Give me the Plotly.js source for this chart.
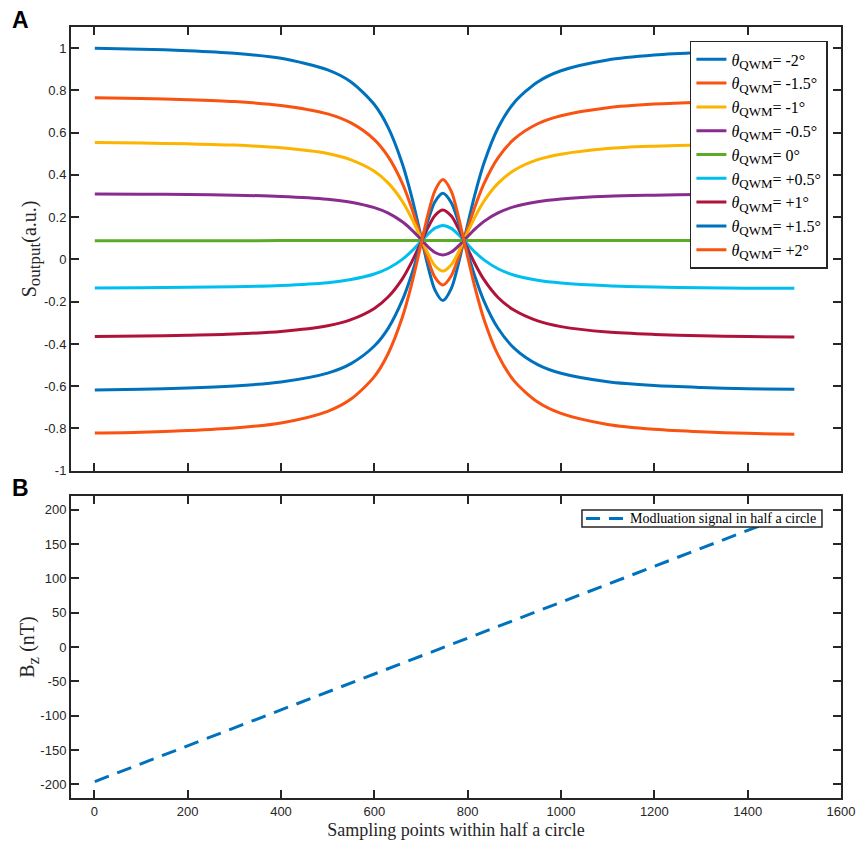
<!DOCTYPE html>
<html>
<head>
<meta charset="utf-8">
<script src="https://cdn.plot.ly/plotly-3.0.1.min.js"></script>
<style>html,body{margin:0;padding:0;background:#fff;}#chart{width:857px;height:846px;}</style>
</head>
<body>
<div id="chart"></div>
<script>
// ---- Data ----
var samplePoints = [1,100,200,300,400,500,550,600,630,660,680,700,715,730,747,765,780,795,815,835,865,900,950,1000,1100,1200,1300,1400,1500];

var sM20 = [1.000,0.995,0.988,0.976,0.952,0.897,0.840,0.733,0.623,0.453,0.297,0.109,-0.033,-0.145,-0.195,-0.137,-0.022,0.119,0.303,0.456,0.622,0.743,0.840,0.893,0.944,0.967,0.979,0.986,0.990];
var sM15 = [0.765,0.762,0.756,0.747,0.729,0.689,0.646,0.567,0.485,0.360,0.243,0.104,-0.001,-0.085,-0.121,-0.077,0.007,0.111,0.246,0.359,0.481,0.570,0.642,0.680,0.718,0.735,0.744,0.749,0.752];
var sM10 = [0.553,0.551,0.547,0.541,0.528,0.501,0.471,0.417,0.361,0.275,0.195,0.100,0.028,-0.030,-0.055,-0.025,0.033,0.105,0.198,0.276,0.360,0.422,0.472,0.498,0.525,0.536,0.542,0.546,0.548];
var sM05 = [0.310,0.309,0.307,0.304,0.298,0.285,0.271,0.245,0.219,0.178,0.140,0.095,0.060,0.033,0.021,0.035,0.063,0.097,0.142,0.180,0.220,0.250,0.273,0.286,0.299,0.304,0.307,0.309,0.310];
var s00  = [0.088,0.088,0.088,0.088,0.089,0.089,0.089,0.089,0.089,0.089,0.090,0.090,0.090,0.090,0.090,0.090,0.090,0.090,0.090,0.090,0.090,0.090,0.090,0.090,0.090,0.090,0.090,0.090,0.090];
var sP05 = [-0.135,-0.134,-0.132,-0.129,-0.123,-0.110,-0.095,-0.069,-0.042,0.000,0.039,0.085,0.120,0.148,0.161,0.147,0.118,0.083,0.036,-0.002,-0.044,-0.075,-0.099,-0.112,-0.125,-0.131,-0.134,-0.136,-0.137];
var sP10 = [-0.365,-0.363,-0.359,-0.353,-0.341,-0.314,-0.285,-0.232,-0.177,-0.092,-0.013,0.080,0.151,0.208,0.234,0.205,0.147,0.075,-0.018,-0.096,-0.180,-0.241,-0.291,-0.318,-0.344,-0.355,-0.361,-0.365,-0.367];
var sP15 = [-0.618,-0.614,-0.609,-0.599,-0.580,-0.538,-0.493,-0.410,-0.325,-0.193,-0.071,0.075,0.185,0.273,0.313,0.268,0.178,0.067,-0.077,-0.197,-0.326,-0.421,-0.498,-0.539,-0.579,-0.597,-0.606,-0.612,-0.615];
var sP20 = [-0.822,-0.818,-0.810,-0.798,-0.774,-0.719,-0.661,-0.555,-0.444,-0.274,-0.117,0.071,0.213,0.326,0.378,0.322,0.204,0.060,-0.127,-0.284,-0.452,-0.576,-0.675,-0.729,-0.781,-0.804,-0.816,-0.823,-0.828];

var angleLabels = ['-2°','-1.5°','-1°','-0.5°','0°','+0.5°','+1°','+1.5°','+2°'];
var seriesColors = ['#0072BD','#FA5210','#FBB400','#8A2C8F','#5CAB26','#00BFEF','#B0123A','#0072BD','#FA5210'];

var bzX = [1, 1500];
var bzY = [-196, 196];
var bzName = 'Modluation signal in half a circle';

var xTicks = [0,200,400,600,800,1000,1200,1400,1600];
var xTickText = ['0','200','400','600','800','1000','1200','1400','1600'];
var yTopTicks = [-1,-0.8,-0.6,-0.4,-0.2,0,0.2,0.4,0.6,0.8,1];
var yTopText = ['-1','-0.8','-0.6','-0.4','-0.2','0','0.2','0.4','0.6','0.8','1'];
var yBotTicks = [-200,-150,-100,-50,0,50,100,150,200];
var yBotText = ['-200','-150','-100','-50','0','50','100','150','200'];

// ---- Build traces ----
var topSeries = [sM20,sM15,sM10,sM05,s00,sP05,sP10,sP15,sP20];
var traces = topSeries.map(function(vals, i){
  return {x: samplePoints, y: vals, type:'scatter', mode:'lines',
          name: '<i>θ</i><sub><span style="font-size:13px">QWM</span></sub>= ' + angleLabels[i],
          line:{color: seriesColors[i], width:3, shape:'spline', smoothing:0.8},
          xaxis:'x', yaxis:'y'};
});
traces.push({x: bzX, y: bzY, type:'scatter', mode:'lines', name: bzName, showlegend:false,
             line:{color:'#0072BD', width:3, dash:'15px,9px'}, xaxis:'x2', yaxis:'y2'});

var axCol = '#262626';
var tickFont = {family:'Liberation Sans, Arial, sans-serif', size:13, color:axCol};
var titleFont = {family:'Liberation Serif, Times New Roman, serif', size:18, color:axCol};
var yTitleFont = {family:'Liberation Serif, Times New Roman, serif', size:20, color:axCol};
function xAxis(extra){
  var a = {range:[-50,1600], tickvals:xTicks, ticktext:xTickText, ticks:'inside', ticklen:8, tickwidth:2,
    tickcolor:axCol, showline:true, linecolor:axCol, linewidth:2, mirror:'ticks', showgrid:false, zeroline:false,
    tickfont:tickFont};
  for (var k in extra) a[k]=extra[k];
  return a;
}
function yAxis(extra){
  var a = {ticks:'inside', ticklen:8, tickwidth:2, tickcolor:axCol, showline:true, linecolor:axCol, linewidth:2,
    mirror:'ticks', showgrid:false, zeroline:false, tickfont:tickFont};
  for (var k in extra) a[k]=extra[k];
  return a;
}

// legend B box (drawn as shapes above the line, text as annotation)
var lgB = {x0:0.6636, x1:0.9753, y0:0.3515, y1:0.3735, ym:0.3625, s0:0.6688, s1:0.7169, t:0.7234};

var layout = {
  width:857, height:846,
  margin:{l:71, r:16, t:27, b:48},
  paper_bgcolor:'#fff', plot_bgcolor:'#fff',
  showlegend:true,
  xaxis: xAxis({domain:[0,1], anchor:'y', showticklabels:false}),
  yaxis: yAxis({domain:[0.4245,1], anchor:'x', range:[-1,1.1], tickvals:yTopTicks, ticktext:yTopText,
    title:{text:'S<sub><span style="font-size:17px">output</span></sub>(a.u.)', font:yTitleFont, standoff:0}}),
  xaxis2: xAxis({domain:[0,1], anchor:'y2', title:{text:'Sampling points within half a circle', font:titleFont, standoff:6}}),
  yaxis2: yAxis({domain:[0,0.3917], anchor:'x2', range:[-220,220], tickvals:yBotTicks, ticktext:yBotText,
    title:{text:'B<sub><span style="font-size:17px">z</span></sub> (nT)', font:yTitleFont, standoff:0}}),
  legend:{x:0.983, xanchor:'right', y:0.982, yanchor:'top', bgcolor:'#fff', bordercolor:axCol, borderwidth:1.5,
    font:{family:'Liberation Serif, Times New Roman, serif', size:16, color:'#000'}, tracegroupgap:0},
  shapes:[
    {type:'rect', xref:'paper', yref:'paper', x0:lgB.x0, x1:lgB.x1, y0:lgB.y0, y1:lgB.y1, layer:'above',
     fillcolor:'#fff', line:{color:axCol, width:1.5}},
    {type:'line', xref:'paper', yref:'paper', x0:lgB.s0, x1:lgB.s1, y0:lgB.ym, y1:lgB.ym, layer:'above',
     line:{color:'#0072BD', width:3, dash:'14px,9px'}}
  ],
  annotations:[
    {text:bzName, xref:'paper', yref:'paper', x:lgB.t, y:lgB.ym, xanchor:'left', yanchor:'middle', showarrow:false,
     font:{family:'Liberation Serif, Times New Roman, serif', size:14, color:'#000'}},
    {text:'<b>A</b>', xref:'paper', yref:'paper', x:-0.066, y:1.009, xanchor:'center', yanchor:'middle', showarrow:false,
     font:{family:'Liberation Sans, Arial, sans-serif', size:23, color:'#000'}},
    {text:'<b>B</b>', xref:'paper', yref:'paper', x:-0.066, y:0.402, xanchor:'center', yanchor:'middle', showarrow:false,
     font:{family:'Liberation Sans, Arial, sans-serif', size:23, color:'#000'}}
  ]
};

Plotly.newPlot('chart', traces, layout, {staticPlot:true, displayModeBar:false});
</script>
</body>
</html>
